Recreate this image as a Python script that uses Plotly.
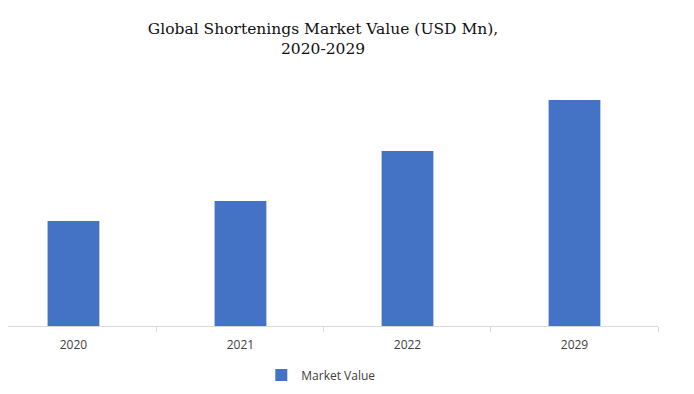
import plotly.graph_objects as go

categories = ["2020", "2021", "2022", "2029"]
values = [2100, 2500, 3500, 4520]
series_name = "Market Value"

fig = go.Figure()
fig.add_trace(go.Bar(
    x=categories, y=values, name=series_name,
    marker=dict(color="#4472C4", line=dict(width=0)),
    width=0.31, showlegend=True,
))

fig.update_layout(
    width=694, height=394,
    margin=dict(l=0, r=44, t=68, b=76),
    paper_bgcolor="white", plot_bgcolor="white",
    title=dict(
        text="Global Shortenings Market Value (USD Mn),<br>2020-2029",
        xref="container", yref="container",
        x=0.454, xanchor="center", y=0.935, yanchor="middle",
        font=dict(family="DejaVu Serif, Liberation Serif, serif", size=15.5, color="#111111"),
    ),
    xaxis=dict(
        type="category", range=[-0.392, 3.5],
        showline=True, linecolor="#d9d9d9", linewidth=1,
        ticks="outside", tickson="boundaries", ticklen=5, tickcolor="#d9d9d9",
        ticklabelstandoff=8,
        tickfont=dict(family="Open Sans, Liberation Sans, sans-serif", size=12, color="#404040"),
        showgrid=False,
    ),
    yaxis=dict(range=[0, 5000], visible=False, showgrid=False, zeroline=False),
    showlegend=True,
    legend=dict(
        orientation="h", x=0.482, xanchor="center", y=-0.196, yanchor="middle",
        font=dict(family="Open Sans, Liberation Sans, sans-serif", size=12, color="#404040"),
        itemwidth=30,
    ),
)

fig.write_html("out.html")
